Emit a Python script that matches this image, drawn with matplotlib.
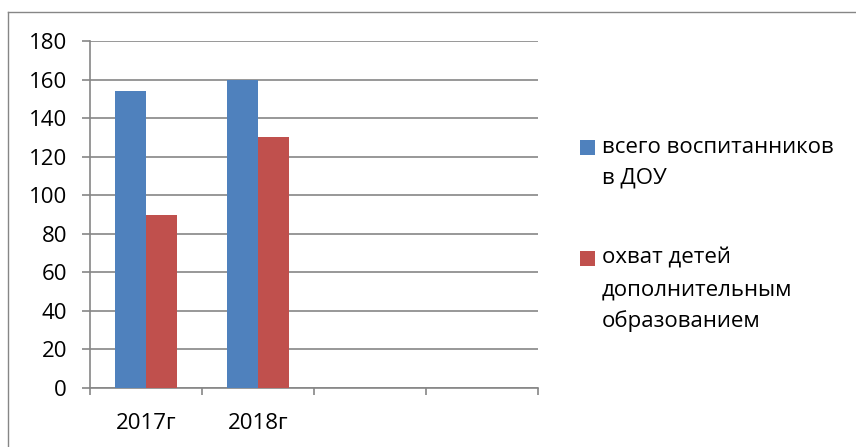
import matplotlib
matplotlib.use("Agg")
import matplotlib.pyplot as plt
from matplotlib.patches import Rectangle
from matplotlib.lines import Line2D
import numpy as np

categories = ["2017г", "2018г", "", ""]
series_names = ["всего воспитанников\nв ДОУ", "охват детей\nдополнительным\nобразованием"]
total_pupils = [154, 160, None, None]
extra_edu = [90, 130, None, None]
y_ticks = [0, 20, 40, 60, 80, 100, 120, 140, 160, 180]

colors = ["#4F81BD", "#C0504D"]
grid_color = "#868686"
font = ["Open Sans", "DejaVu Sans"]
plt.rcParams["font.family"] = font

W, H = 856, 447
fig = plt.figure(figsize=(W / 100, H / 100), dpi=100)

# outer chart border (top and left visible)
fig.add_artist(Line2D([8 / W, 8 / W], [0, 1 - 12 / H], transform=fig.transFigure,
                      color="#868686", lw=1.0))
fig.add_artist(Line2D([8 / W, 1], [1 - 12 / H, 1 - 12 / H], transform=fig.transFigure,
                      color="#868686", lw=1.0))

left, right, top, bottom = 90, 538, 41, 388
ax = fig.add_axes([left / W, (H - bottom) / H, (right - left) / W, (bottom - top) / H])

x = np.arange(len(categories))
bw = 0.28
v1 = [np.nan if v is None else v for v in total_pupils]
v2 = [np.nan if v is None else v for v in extra_edu]
ax.bar(x - bw / 2, v1, width=bw, color=colors[0], zorder=3, label=series_names[0])
ax.bar(x + bw / 2, v2, width=bw, color=colors[1], zorder=3, label=series_names[1])

ax.set_xlim(-0.5, len(categories) - 0.5)
ax.set_ylim(0, 180)
ax.set_yticks(y_ticks)
ax.set_yticklabels([str(t) for t in y_ticks], fontsize=16)
ax.yaxis.grid(True, color=grid_color, lw=1.2, zorder=0)

ax.set_xticks(np.arange(len(categories) + 1) - 0.5)
ax.set_xticklabels([])
ax.set_xticks(x, minor=True)
ax.set_xticklabels(categories, minor=True, fontsize=16)
ax.tick_params(axis="x", which="minor", length=0, pad=18)
ax.tick_params(axis="x", which="major", length=5, width=1.2, color=grid_color, direction="out")
ax.tick_params(axis="y", length=5.5, width=1.2, color=grid_color, pad=11)

for s in ["top", "right"]:
    ax.spines[s].set_visible(False)
for s in ["left", "bottom"]:
    ax.spines[s].set_color(grid_color)
    ax.spines[s].set_linewidth(1.2)

# legend, drawn by hand so the swatch aligns with the first text line
legend_first_line_y = [147, 258]
line_step = 31.5
sw = 15
for name, c, y0 in zip(series_names, colors, legend_first_line_y):
    fig.add_artist(Rectangle((580 / W, 1 - (y0 + sw / 2) / H), sw / W, sw / H,
                             transform=fig.transFigure, facecolor=c, edgecolor="none"))
    for i, line in enumerate(name.split("\n")):
        fig.text(602 / W, 1 - (y0 + i * line_step) / H, line, fontsize=16,
                 ha="left", va="center")

fig.savefig("out.png", dpi=100)
